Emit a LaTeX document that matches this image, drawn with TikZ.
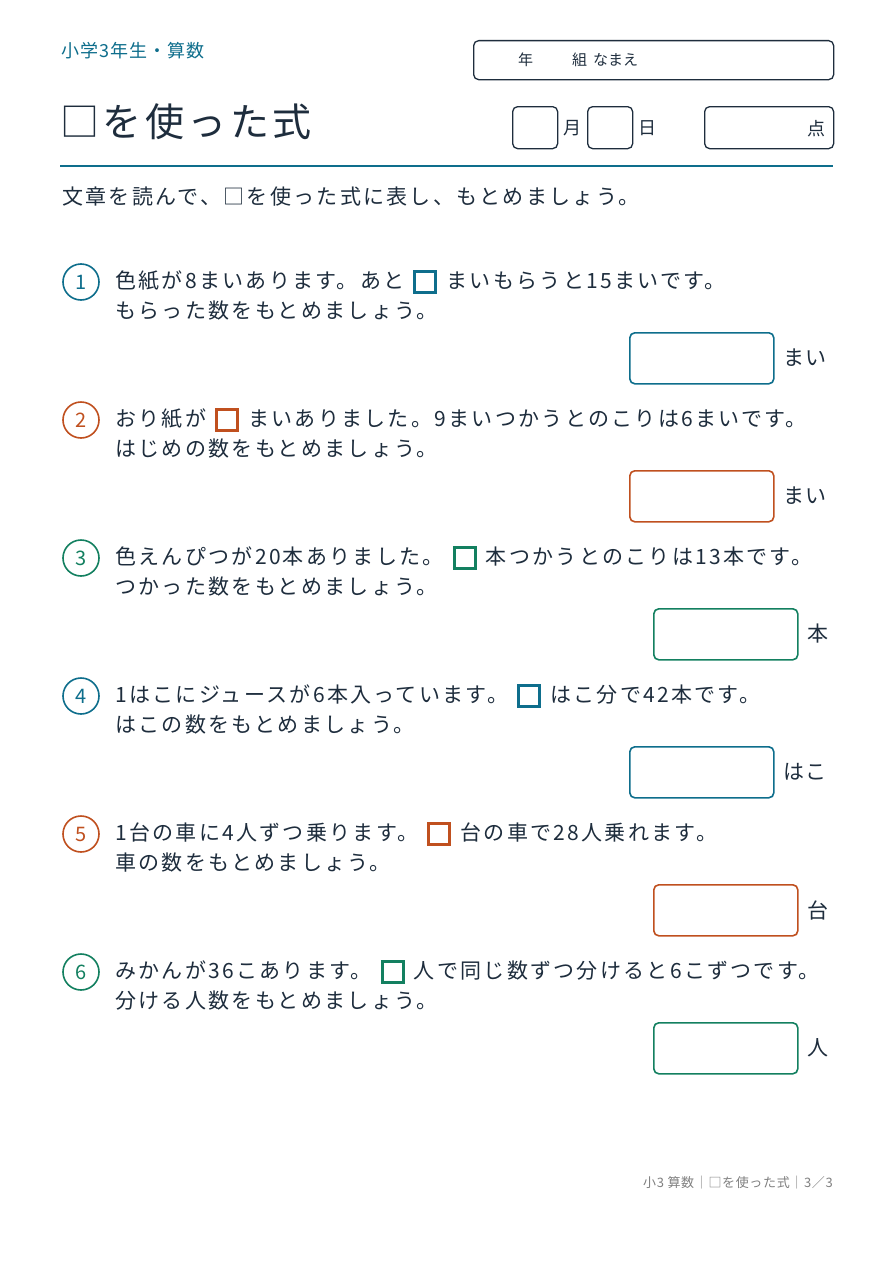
\documentclass[tikz,border=0pt]{standalone}
\usepackage{fontspec}
\setmainfont{Noto Sans CJK JP}
\usepackage{xcolor}
\definecolor{cb}{HTML}{0E6E8C}
\definecolor{co}{HTML}{C0501F}
\definecolor{cg}{HTML}{138060}
\definecolor{ink}{HTML}{1E2D3D}
\definecolor{gr}{HTML}{808080}
\newcommand{\qbox}[1]{\hspace{9pt}{\setlength{\fboxrule}{3pt}\setlength{\fboxsep}{0pt}\raisebox{-3pt}{\fcolorbox{#1}{white}{\rule{0pt}{18pt}\hspace{18pt}}}}\hspace{9pt}}
\begin{document}
\begin{tikzpicture}[x=1pt,y=-1pt,
  txt/.style={anchor=west,inner sep=0pt,text=ink,font=\fontsize{21}{24}\selectfont\addfontfeatures{LetterSpace=11}},
  num/.style={circle,draw=#1,line width=1.6pt,minimum size=36pt,inner sep=0pt,text=#1,font=\fontsize{20}{24}\selectfont},
  ans/.style={draw=#1,line width=1.6pt,rounded corners=5pt,anchor=north west,minimum width=144pt,minimum height=51pt,inner sep=0pt},
  unit/.style={anchor=west,inner sep=0pt,text=ink,font=\fontsize{21}{24}\selectfont\addfontfeatures{LetterSpace=8}},
  hbox/.style={draw=ink,line width=1.3pt,rounded corners=5pt,anchor=north west,inner sep=0pt}]
\useasboundingbox[fill=white] (0,0) rectangle (893,1263);
\node[anchor=west,inner sep=0pt,text=cb,font=\fontsize{18}{20}\selectfont\addfontfeatures{LetterSpace=6}] (grade) at (61,51) {小学3年生・算数};
\node[hbox,minimum width=360pt,minimum height=39pt] (namebox) at (473,40) {};
\node[anchor=west,inner sep=0pt,text=ink,font=\fontsize{15}{18}\selectfont] (nm) at (518,60) {年\hspace{39pt}組\hspace{6pt}なまえ};
\node[anchor=west,inner sep=0pt,text=ink,font=\fontsize{39}{44}\selectfont\addfontfeatures{LetterSpace=9}] (title) at (60,122) {□を使った式};
\node[hbox,minimum width=45pt,minimum height=42pt] (mb) at (512,106) {};
\node[unit,font=\fontsize{18}{20}\selectfont] (mt) at (563,128) {月};
\node[hbox,minimum width=45pt,minimum height=42pt] (db) at (587,106) {};
\node[unit,font=\fontsize{18}{20}\selectfont] (dt) at (638,128) {日};
\node[hbox,minimum width=129pt,minimum height=42pt] (sb) at (704,106) {};
\node[anchor=east,inner sep=0pt,text=ink,font=\fontsize{18}{20}\selectfont] (st) at (826,129) {点};
\coordinate (l1) at (60,166); \coordinate (l2) at (833,166);
\draw[cb,line width=2pt] (l1) -- (l2);
\node[txt] (inst) at (62,197) {文章を読んで、□を使った式に表し、もとめましょう。};
\foreach \i/\c/\y/\a/\b/\bx/\u in {
 1/cb/282/{色紙が8まいあります。あと\qbox{cb}まいもらうと15まいです。}/{もらった数をもとめましょう。}/629/まい,
 2/co/420/{おり紙が\qbox{co}まいありました。9まいつかうとのこりは6まいです。}/{はじめの数をもとめましょう。}/629/まい,
 3/cg/558/{色えんぴつが20本ありました。\qbox{cg}本つかうとのこりは13本です。}/{つかった数をもとめましょう。}/653/本,
 4/cb/696/{1はこにジュースが6本入っています。\qbox{cb}はこ分で42本です。}/{はこの数をもとめましょう。}/629/はこ,
 5/co/834/{1台の車に4人ずつ乗ります。\qbox{co}台の車で28人乗れます。}/{車の数をもとめましょう。}/653/台,
 6/cg/972/{みかんが36こあります。\qbox{cg}人で同じ数ずつ分けると6こずつです。}/{分ける人数をもとめましょう。}/653/人}{
  \node[num=\c] (n\i) at (81,\y) {\i};
  \node[txt] (ta\i) at (115,\y) {\a};
  \node[txt] (tb\i) at (115,\y+29) {\b};
  \node[ans=\c] (ab\i) at (\bx,\y+50) {};
  \node[unit] (u\i) at (\bx+154,\y+76) {\u};
}
\node[anchor=east,inner sep=0pt,text=gr,font=\fontsize{13}{15}\selectfont\addfontfeatures{LetterSpace=5}] (foot) at (833,1183) {小3 算数｜□を使った式｜3／3};
\end{tikzpicture}
\end{document}
